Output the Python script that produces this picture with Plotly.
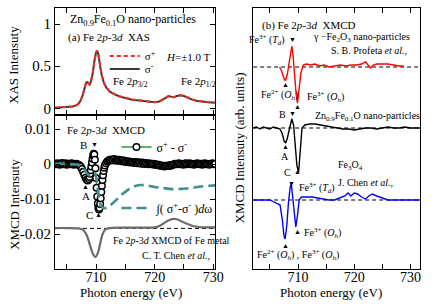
import plotly.graph_objects as go

# ---------------- data ----------------
# (a) XAS, Zn0.9Fe0.1O
XAS_E = [703.0, 704.0, 705.0, 706.0, 706.8, 707.3, 707.7, 708.0, 708.3, 708.5, 708.7, 708.9,
         709.1, 709.4, 709.7, 710.0, 710.2, 710.4, 710.7, 711.0, 711.4, 711.8, 712.3, 713.0,
         714.0, 715.0, 716.0, 717.0, 718.0, 719.0, 720.0, 720.8, 721.5, 722.0, 722.4, 722.9,
         723.3, 723.8, 724.4, 725.0, 725.7, 726.5, 727.3, 728.2, 729.2, 730.3]
XAS_SIGMA_MINUS = [0.005, 0.01, 0.015, 0.02, 0.04, 0.08, 0.15, 0.23, 0.30, 0.31, 0.29, 0.28,
                   0.31, 0.40, 0.55, 0.66, 0.68, 0.64, 0.50, 0.38, 0.29, 0.24, 0.20, 0.17,
                   0.14, 0.12, 0.105, 0.095, 0.085, 0.075, 0.07, 0.08, 0.11, 0.135, 0.145, 0.135,
                   0.13, 0.145, 0.155, 0.145, 0.12, 0.10, 0.085, 0.075, 0.07, 0.065]
XAS_SIGMA_PLUS = [0.006, 0.011, 0.016, 0.021, 0.041, 0.082, 0.152, 0.235, 0.305, 0.315, 0.295, 0.285,
                  0.315, 0.405, 0.555, 0.665, 0.685, 0.645, 0.505, 0.385, 0.295, 0.245, 0.203, 0.172,
                  0.142, 0.122, 0.107, 0.097, 0.087, 0.077, 0.072, 0.082, 0.112, 0.137, 0.147, 0.137,
                  0.132, 0.147, 0.157, 0.147, 0.122, 0.102, 0.087, 0.077, 0.072, 0.067]

# (a) XMCD sigma+ - sigma-  (energy, value)
MCD_POINTS = [
    (703.0, 0.0001), (703.2, -0.0001), (703.4, 0.0002), (703.6, 0.0000), (703.8, -0.0002),
    (704.0, 0.0001), (704.2, 0.0003), (704.4, -0.0001), (704.6, 0.0000), (704.8, 0.0002),
    (705.0, -0.0002), (705.2, 0.0001), (705.4, 0.0000), (705.6, -0.0001), (705.8, 0.0002),
    (706.0, 0.0001), (706.2, -0.0002), (706.4, 0.0000), (706.6, 0.0001), (706.8, -0.0001),
    (707.0, -0.0002), (707.2, -0.0004), (707.4, -0.0008), (707.6, -0.0014), (707.8, -0.0022),
    (708.0, -0.0031), (708.2, -0.0039), (708.4, -0.0045), (708.6, -0.0047), (708.8, -0.0043),
    (708.9, -0.0037), (709.0, -0.0028), (709.1, -0.0018), (709.2, -0.0007), (709.3, 0.0004),
    (709.4, 0.0015), (709.5, 0.0024), (709.6, 0.0029), (709.7, 0.0027), (709.8, 0.0012),
    (709.9, -0.0012), (710.0, -0.0040), (710.1, -0.0068), (710.2, -0.0093), (710.3, -0.0113),
    (710.4, -0.0126), (710.5, -0.0130), (710.6, -0.0126), (710.7, -0.0114), (710.8, -0.0098),
    (710.9, -0.0080), (711.0, -0.0062), (711.1, -0.0046), (711.2, -0.0032), (711.3, -0.0020),
    (711.4, -0.0011), (711.5, -0.0004), (711.7, 0.0002), (711.9, 0.0007), (712.1, 0.0009),
    (712.3, 0.0012), (712.5, 0.0010), (712.7, 0.0013), (712.9, 0.0011), (713.1, 0.0014),
    (713.3, 0.0010), (713.5, 0.0012), (713.7, 0.0009), (713.9, 0.0012), (714.1, 0.0010),
    (714.3, 0.0008), (714.5, 0.0011), (714.7, 0.0007), (714.9, 0.0009), (715.1, 0.0006),
    (715.3, 0.0008), (715.5, 0.0005), (715.7, 0.0007), (715.9, 0.0004), (716.1, 0.0006),
    (716.3, 0.0005), (716.5, 0.0003), (716.7, 0.0006), (716.9, 0.0004), (717.1, 0.0002),
    (717.3, 0.0005), (717.5, 0.0003), (717.7, 0.0001), (717.9, 0.0004), (718.1, 0.0002),
    (718.3, 0.0000), (718.5, 0.0003), (718.7, 0.0001), (718.9, -0.0001), (719.1, 0.0002),
    (719.3, 0.0000), (719.5, -0.0001), (719.7, 0.0001), (719.9, -0.0002), (720.1, 0.0000),
    (720.3, -0.0002), (720.5, -0.0003), (720.7, -0.0002), (720.9, -0.0005), (721.1, -0.0004),
    (721.3, -0.0006), (721.5, -0.0005), (721.7, -0.0007), (721.9, -0.0005), (722.1, -0.0006),
    (722.3, -0.0004), (722.5, -0.0006), (722.7, -0.0003), (722.9, -0.0004), (723.1, -0.0002),
    (723.3, -0.0001), (723.5, 0.0001), (723.7, -0.0001), (723.9, 0.0000), (724.1, 0.0002),
    (724.3, -0.0001), (724.5, 0.0001), (724.7, 0.0000), (724.9, -0.0002), (725.1, 0.0001),
    (725.3, 0.0002), (725.5, -0.0001), (725.7, 0.0000), (725.9, 0.0002), (726.1, -0.0001),
    (726.3, 0.0001), (726.5, 0.0000), (726.7, -0.0002), (726.9, 0.0001), (727.1, 0.0000),
    (727.3, 0.0002), (727.5, -0.0001), (727.7, 0.0000), (727.9, 0.0001), (728.1, -0.0002),
    (728.3, 0.0000), (728.5, 0.0002), (728.7, -0.0001), (728.9, 0.0001), (729.1, 0.0000),
    (729.3, -0.0002), (729.5, 0.0001), (729.7, 0.0000), (729.9, 0.0002), (730.1, -0.0001),
    (730.3, 0.0000),
]
MCD_E = [p[0] for p in MCD_POINTS]
MCD_DIFF = [p[1] for p in MCD_POINTS]

# (a) integral of XMCD
INT_E = [703.0, 704.0, 705.0, 706.0, 707.0, 707.5, 708.0, 708.4, 708.8, 709.2, 709.6, 709.9,
         710.2, 710.5, 710.8, 711.2, 711.8, 712.5, 713.5, 714.5, 715.5, 716.5, 717.5, 718.5,
         719.5, 720.5, 721.5, 722.5, 723.5, 724.5, 725.5, 726.5, 727.5, 728.5, 729.5, 730.3]
INT_VAL = [0.0, 0.0001, 0.0, -0.0001, -0.0002, -0.0006, -0.0016, -0.0026, -0.0032, -0.0030, -0.0025, -0.0030,
           -0.0060, -0.0095, -0.0118, -0.0126, -0.0125, -0.0117, -0.0102, -0.0086, -0.0073, -0.0064, -0.0060, -0.0061,
           -0.0064, -0.0067, -0.0069, -0.0071, -0.0072, -0.0071, -0.0070, -0.0068, -0.0065, -0.0063, -0.0062, -0.0061]

# (a) Fe metal XMCD (C. T. Chen et al.), offset
FEMETAL_E = [703.0, 705.0, 707.0, 707.8, 708.4, 708.9, 709.4, 709.9, 710.3, 710.7, 711.1, 711.6,
             712.3, 714.0, 716.0, 718.0, 720.0, 720.8, 721.6, 722.4, 723.2, 723.8, 724.6, 725.5,
             726.5, 727.5, 729.0, 730.3]
FEMETAL_VAL = [-0.0183, -0.0183, -0.0184, -0.0188, -0.0203, -0.0228, -0.0254, -0.0266, -0.0255, -0.0228, -0.0201, -0.0187,
               -0.0183, -0.0182, -0.0182, -0.0182, -0.0181, -0.0177, -0.0169, -0.0161, -0.0157, -0.0158, -0.0164, -0.0171,
               -0.0177, -0.0180, -0.0181, -0.0181]
FEMETAL_BASE = -0.0184

# (b) gamma-Fe2O3 (S. B. Profeta et al.)
RED_E = [706.7, 707.0, 707.3, 707.6, 707.8, 708.1, 708.4, 708.7, 708.9, 709.1, 709.4, 709.7,
         709.9, 710.2, 710.5, 710.9, 711.5, 712.2, 713.0, 713.8, 714.6, 715.5, 716.5, 717.5,
         718.5, 719.5, 720.5, 721.3, 722.0, 722.5, 722.9, 723.4, 724.0, 725.0, 726.0, 727.0,
         728.0, 728.8]
RED_VAL = [0.0, -0.03, -0.08, -0.13, -0.13, -0.07, 0.04, 0.17, 0.21, 0.12, -0.12, -0.30,
           -0.36, -0.22, -0.06, 0.02, 0.03, 0.02, 0.03, 0.01, 0.02, 0.0, 0.01, 0.02,
           0.01, 0.02, 0.02, 0.03, 0.05, 0.02, -0.01, 0.02, 0.03, 0.03, 0.03, 0.02,
           0.01, 0.01]
RED_OFFSET = 2.02

# (b) Zn0.9Fe0.1O nano-particles
BLK_E = [702.0, 702.6, 703.2, 703.8, 704.4, 705.0, 705.6, 706.2, 706.8, 707.2, 707.5, 707.8,
         708.1, 708.5, 708.9, 709.2, 709.5, 709.8, 710.1, 710.4, 710.7, 711.2, 712.0, 713.0,
         714.0, 715.0, 716.0, 717.0, 718.0, 719.0, 720.0, 721.0, 722.0, 723.0, 724.0, 725.0,
         726.0, 727.0, 728.0, 729.0, 730.0, 731.7]
BLK_VAL = [0.0, 0.01, -0.01, 0.01, 0.0, -0.01, 0.01, 0.0, -0.01, -0.06, -0.13, -0.15,
           -0.10, 0.0, 0.09, 0.03, -0.20, -0.38, -0.44, -0.20, 0.0, 0.03, 0.04, 0.04,
           0.03, 0.02, 0.01, 0.0, -0.01, -0.01, -0.02, -0.01, 0.0, 0.0, -0.01, 0.0,
           0.01, 0.0, 0.0, 0.01, 0.0, 0.0]
BLK_OFFSET = 1.41

# (b) Fe3O4 (J. Chen et al.)
BLU_E = [702.0, 704.0, 705.0, 705.7, 706.3, 706.8, 707.2, 707.5, 707.7, 708.0, 708.3, 708.6,
         708.8, 709.1, 709.4, 709.6, 709.9, 710.2, 710.6, 711.5, 712.5, 713.5, 714.5, 715.5,
         716.5, 717.5, 718.3, 718.9, 719.4, 720.0, 720.6, 721.3, 722.0, 722.6, 723.2, 724.0,
         725.0, 726.0, 728.0, 731.7]
BLU_VAL = [0.0, 0.0, 0.0, -0.02, -0.04, -0.05, -0.20, -0.36, -0.39, -0.25, -0.02, 0.13,
           0.16, 0.0, -0.20, -0.27, -0.15, 0.0, 0.03, 0.03, 0.03, 0.02, 0.01, 0.0,
           0.0, 0.02, 0.04, 0.07, 0.04, 0.07, 0.06, 0.03, 0.01, 0.04, 0.06, 0.04,
           0.02, 0.0, 0.0, 0.0]
BLU_OFFSET = 0.69

TICK_VALS = [705, 710, 715, 720, 725, 730]
TICK_TEXT = ["", "710", "", "720", "", "730"]
XAS_TICKS = [0, 0.5, 1]
XAS_TICK_TEXT = ["0", "0.5", "1"]
MCD_TICKS = [-0.02, -0.01, 0, 0.01]
MCD_TICK_TEXT = ["-0.02", "-0.01", "0", "0.01"]

# ---------------- layout helpers ----------------
W, H = 436, 304
ML, MR, MT, MB = 55, 7, 8, 35
PW = W - ML - MR
PH = H - MT - MB
FONT = "Liberation Serif"


def pp(x, y):
    return (x - ML) / PW, (H - MB - y) / PH


LEFT_DOM = [0, (219 - ML) / PW]
RIGHT_DOM = [(258 - ML) / PW, 1]
SPLIT = (H - MB - 115) / PH

fig = go.Figure()

# XAS
fig.add_trace(go.Scatter(x=XAS_E, y=XAS_SIGMA_MINUS, xaxis="x2", yaxis="y2", mode="lines",
                         line=dict(color="#3a3a3a", width=2), name="σ<sup>-</sup>", legend="legend2"))
fig.add_trace(go.Scatter(x=XAS_E, y=XAS_SIGMA_PLUS, xaxis="x2", yaxis="y2", mode="lines",
                         line=dict(color="#ff2a1a", width=2, dash="4px,3px"), name="σ<sup>+</sup>", legend="legend"))
# XMCD
fig.add_trace(go.Scatter(x=FEMETAL_E, y=FEMETAL_VAL, mode="lines", line=dict(color="#6c6c6c", width=2.2),
                         showlegend=False, line_shape="spline"))
fig.add_trace(go.Scatter(x=MCD_E, y=MCD_DIFF, mode="lines+markers",
                         line=dict(color="#2e9a2e", width=1.3),
                         marker=dict(symbol="circle", size=6.5, color="white", line=dict(color="black", width=1.5)),
                         name="σ<sup>+</sup> - σ<sup>-</sup>", legend="legend3"))
fig.add_trace(go.Scatter(x=INT_E, y=INT_VAL, mode="lines", line=dict(color="#3f8f8c", width=2.6, dash="10px,5px"),
                         name="∫( σ<sup>+</sup>-σ<sup>-</sup> )<i>d</i>ω", legend="legend4", line_shape="spline"))
# right panel
fig.add_trace(go.Scatter(x=RED_E, y=[RED_OFFSET + v for v in RED_VAL], xaxis="x3", yaxis="y3", mode="lines",
                         line=dict(color="#ff0000", width=1.4), showlegend=False))
fig.add_trace(go.Scatter(x=BLK_E, y=[BLK_OFFSET + v for v in BLK_VAL], xaxis="x3", yaxis="y3", mode="lines",
                         line=dict(color="black", width=1.4), showlegend=False))
fig.add_trace(go.Scatter(x=BLU_E, y=[BLU_OFFSET + v for v in BLU_VAL], xaxis="x3", yaxis="y3", mode="lines",
                         line=dict(color="#0000ff", width=1.4), showlegend=False))

shapes = [
    dict(type="line", xref="x domain", yref="y", x0=0, x1=1, y0=FEMETAL_BASE, y1=FEMETAL_BASE,
         line=dict(color="black", width=1, dash="4px,3px"), layer="below"),
]
for off in (RED_OFFSET, BLK_OFFSET, BLU_OFFSET):
    shapes.append(dict(type="line", xref="x3 domain", yref="y3", x0=0, x1=1, y0=off, y1=off,
                       line=dict(color="black", width=1, dash="4px,3px"), layer="below"))

annotations = []


def ann(text, x, y, size=11, xanchor="center", angle=0):
    px_, py_ = pp(x, y)
    annotations.append(dict(text=text, x=px_, y=py_, xref="paper", yref="paper", showarrow=False,
                            xanchor=xanchor, yanchor="middle", textangle=angle,
                            font=dict(size=size, family=FONT, color="black")))


TRI = 7
# panel (a) top
ann("Zn<sub>0.9</sub>Fe<sub>0.1</sub>O nano-particles", 68, 20, 12, "left")
ann("(a) Fe 2<i>p</i>-3<i>d</i>  XAS", 66, 37, 11, "left")
ann("<i>H</i>=±1.0 T", 167, 57, 11, "left")
ann("Fe 2<i>p</i><sub>3/2</sub>", 112, 82, 11, "left")
ann("Fe 2<i>p</i><sub>1/2</sub>", 182, 82, 11, "left")
# panel (a) bottom
ann("Fe 2<i>p</i>-3<i>d</i>  XMCD", 65, 130, 11, "left")
ann("B", 84, 145, 11)
ann("▼", 95, 145, TRI)
ann("▲", 86, 187, TRI)
ann("A", 87, 196, 11)
ann("C", 90, 215, 11)
ann("▲", 100, 215, TRI)
ann("Fe 2<i>p</i>-3<i>d</i> XMCD of Fe metal", 112, 240, 10, "left")
ann("C. T. Chen <i>et al.</i>,", 216, 255, 10, "right")
# panel (b)
ann("(b) Fe 2<i>p</i>-3<i>d</i>  XMCD", 265, 25, 11, "left")
ann("Fe<sup>3+</sup> (<i>T<sub>d</sub></i>)", 293, 40, 10, "right")
ann("▼", 298, 40, TRI)
ann("γ −Fe<sub>2</sub>O<sub>3</sub> nano-particles", 317, 38, 10, "left")
ann("S. B. Profeta <i>et al.</i>,", 418, 51, 10, "right")
ann("▲", 291, 85, TRI)
ann("Fe<sup>2+</sup> (<i>O<sub>h</sub></i>)", 285, 95, 10)
ann("▲", 303, 107, TRI)
ann("Fe<sup>3+</sup> (<i>O<sub>h</sub></i>)", 311, 97, 10, "left")
ann("B", 288, 114, 10)
ann("▼", 298, 114, TRI)
ann("Zn<sub>0.9</sub>Fe<sub>0.1</sub>O nano-particles", 319, 117, 10, "left")
ann("▲", 291, 147, TRI)
ann("A", 291, 156, 10)
ann("C", 293, 172, 10)
ann("▲", 303, 172, TRI)
ann("Fe<sub>3</sub>O<sub>4</sub>", 343, 165, 10, "left")
ann("J. Chen <i>et al.</i>,", 343, 182, 10, "left")
ann("▼", 297, 184, TRI)
ann("Fe<sup>3+</sup> (<i>T<sub>d</sub></i>)", 303, 188, 10, "left")
ann("▲", 303, 232, TRI)
ann("Fe<sup>3+</sup> (<i>O<sub>h</sub></i>)", 308, 233, 10, "left")
ann("▲", 291, 246, TRI)
ann("Fe<sup>2+</sup> (<i>O<sub>h</sub></i>) , Fe<sup>3+</sup> (<i>O<sub>h</sub></i>)", 260, 255, 10, "left")
# axis titles
ann("XAS Intensuty", 13, 65, 13, angle=-90)
ann("XMCD Intensuty", 13, 205, 13, angle=-90)
ann("XMCD Intensuty (arb. units)", 244, 148, 13, angle=-90)
ann("Photon energy (eV)", 133, 293, 13)
ann("Photon energy (eV)", 338, 293, 13)


def xax(dom, rng, anchor, labels=True):
    return dict(domain=dom, range=rng, anchor=anchor, tickmode="array", tickvals=TICK_VALS,
                ticktext=TICK_TEXT, showticklabels=labels, ticks="inside", ticklen=5, tickwidth=1,
                tickcolor="black", showline=True, linecolor="black", linewidth=1, mirror="allticks",
                showgrid=False, zeroline=False, ticklabelstandoff=-5,
                tickfont=dict(size=14, family=FONT, color="black"))


def yax(dom, rng, anchor, vals, text):
    return dict(domain=dom, range=rng, anchor=anchor, tickmode="array", tickvals=vals, ticktext=text,
                ticks="inside", ticklen=5, tickwidth=1, tickcolor="black", showline=True,
                linecolor="black", linewidth=1, mirror="allticks", showgrid=False, zeroline=False,
                tickfont=dict(size=15, family=FONT, color="black"))


def legend_at(x, y, size=12):
    lx, ly = pp(x, y)
    return dict(x=lx, y=ly, xref="paper", yref="paper", xanchor="left", yanchor="middle",
                bgcolor="rgba(0,0,0,0)", borderwidth=0, itemwidth=30,
                font=dict(size=size, family=FONT, color="black"))


fig.update_layout(
    width=W, height=H, margin=dict(l=ML, r=MR, t=MT, b=MB, pad=0),
    paper_bgcolor="white", plot_bgcolor="white",
    xaxis=xax(LEFT_DOM, [703.0, 730.3], "y"),
    yaxis=yax([0, SPLIT], [-0.030, 0.014], "x", MCD_TICKS, MCD_TICK_TEXT),
    xaxis2=xax(LEFT_DOM, [703.0, 730.3], "y2", labels=False),
    yaxis2=yax([SPLIT, 1], [-0.08, 1.19], "x2", XAS_TICKS, XAS_TICK_TEXT),
    xaxis3=xax(RIGHT_DOM, [702.0, 731.7], "y3"),
    yaxis3=dict(domain=[0, 1], range=[0, 2.61], anchor="x3", showticklabels=False, ticks="",
                showline=True, linecolor="black", linewidth=1, mirror=True, showgrid=False, zeroline=False),
    legend=legend_at(106, 56, 11),
    legend2=legend_at(106, 69, 11),
    legend3=legend_at(118, 147),
    legend4=legend_at(118, 208),
    shapes=shapes,
    annotations=annotations,
    font=dict(family=FONT, color="black"),
)

fig.write_html("out.html", config={"displayModeBar": False},
               post_script="document.body.style.margin='0';document.body.style.padding='0';")
